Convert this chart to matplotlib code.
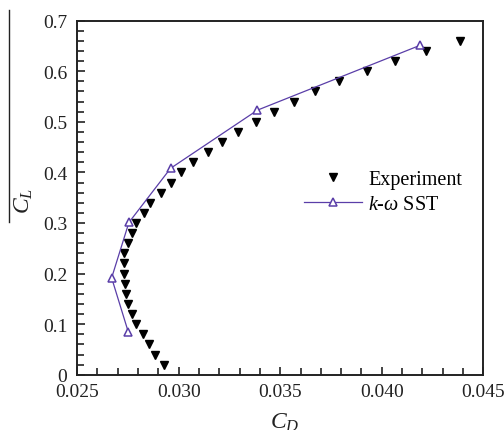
import matplotlib
matplotlib.use("Agg")
import matplotlib.pyplot as plt
from matplotlib.ticker import MultipleLocator, FormatStrFormatter
from matplotlib.lines import Line2D

plt.rcParams["font.family"] = ["Liberation Serif", "DejaVu Serif"]
plt.rcParams["mathtext.fontset"] = "custom"
plt.rcParams["mathtext.rm"] = "Liberation Serif"
plt.rcParams["mathtext.it"] = "Liberation Serif:italic"

# Wind-tunnel measurements
exp_cd = [0.0293, 0.02883, 0.02853, 0.02824, 0.02791, 0.02771, 0.02752, 0.02742,
          0.02734, 0.02731, 0.02731, 0.02732, 0.0275, 0.02771, 0.02791, 0.02829,
          0.02861, 0.02912, 0.02961, 0.0301, 0.03069, 0.03143, 0.03211, 0.0329,
          0.0338, 0.0347, 0.03568, 0.03671, 0.03789, 0.03926, 0.04067, 0.04219,
          0.04386]
exp_cl = [0.02, 0.04, 0.06, 0.08, 0.10, 0.12, 0.14, 0.16, 0.18, 0.20, 0.22,
          0.24, 0.26, 0.28, 0.30, 0.32, 0.34, 0.36, 0.38, 0.40, 0.42, 0.44,
          0.46, 0.48, 0.50, 0.52, 0.54, 0.56, 0.58, 0.60, 0.62, 0.64, 0.66]

# k-omega SST simulation
sst_cd = [0.02752, 0.0267, 0.02755, 0.0296, 0.03388, 0.04188]
sst_cl = [0.0846, 0.1916, 0.301, 0.408, 0.523, 0.651]

purple = "#5a3ea8"
ink = "#222222"

fig = plt.figure(figsize=(5.04, 4.31), dpi=100)
ax = fig.add_axes([0.153, 0.128, 0.806, 0.822])

ax.plot(exp_cd, exp_cl, linestyle="none", marker="v", color="black",
        markersize=5.6, label="Experiment")
ax.plot(sst_cd, sst_cl, color=purple, linewidth=0.9, marker="^",
        markerfacecolor="white", markeredgecolor=purple, markeredgewidth=1.1,
        markersize=6, label=r"$k$-$\omega$ SST")

ax.set_xlim(0.025, 0.045)
ax.set_ylim(0, 0.7)
ax.xaxis.set_major_locator(MultipleLocator(0.005))
ax.xaxis.set_minor_locator(MultipleLocator(0.001))
ax.yaxis.set_major_locator(MultipleLocator(0.1))
ax.yaxis.set_minor_locator(MultipleLocator(0.02))
ax.xaxis.set_major_formatter(FormatStrFormatter("%.3f"))
ax.yaxis.set_major_formatter(lambda v, p: "0" if abs(v) < 1e-9 else f"{v:.1f}")

ax.tick_params(which="both", direction="in", top=False, right=False,
               labelsize=14, colors=ink, width=1.2)
ax.tick_params(which="major", length=6)
ax.tick_params(which="minor", length=5)
ax.tick_params(axis="x", pad=6)
ax.tick_params(axis="y", pad=7)
for s in ax.spines.values():
    s.set_linewidth(1.4)
    s.set_color(ink)

fig.text(0.047, 0.533, r"$C_L$", rotation=90, fontsize=17, color=ink,
         ha="center", va="center")
fig.text(0.565, 0.045, r"$C_D$", fontsize=17, color=ink,
         ha="center", va="top")
fig.add_artist(Line2D([0.018, 0.018], [0.483, 0.975], color=ink,
                      linewidth=1.0, transform=fig.transFigure))

leg = ax.legend(loc="upper left", bbox_to_anchor=(0.538, 0.602), frameon=False,
                fontsize=14.5, handlelength=2.9, handletextpad=0.3,
                labelspacing=0.3, borderaxespad=0)

fig.savefig("out.png", dpi=100, facecolor="white")
